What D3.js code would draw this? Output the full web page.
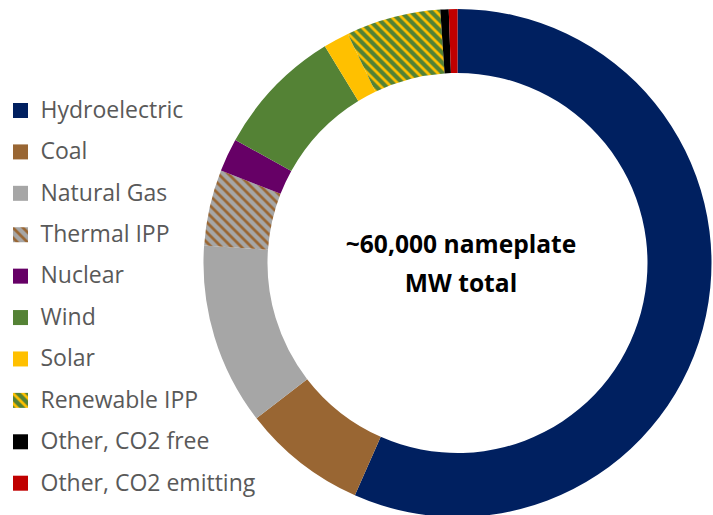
<!DOCTYPE html>
<html>
<head>
<meta charset="utf-8">
<script src="https://cdn.jsdelivr.net/npm/d3@7"></script>
<style>
  html, body { margin: 0; padding: 0; background: #ffffff; }
  svg { display: block; }
</style>
</head>
<body>
<svg id="chart" width="713" height="515"></svg>
<script>
// Data (nameplate MW, approx.)
const categories = ["Hydroelectric", "Coal", "Natural Gas", "Thermal IPP", "Nuclear",
                    "Wind", "Solar", "Renewable IPP", "Other, CO2 free", "Other, CO2 emitting"];
const capacityMW = [34000, 4750, 6950, 2900, 1270, 4930, 980, 3620, 320, 330];
const centerLabel = ["~60,000 nameplate", "MW total"];

const fills = ["#002060", "#996633", "#A6A6A6", "url(#pat-thermal)", "#660066",
               "#548235", "#FFC000", "url(#pat-renew)", "#000000", "#C00000"];

const svg = d3.select("#chart");
const cx = 457.5, cy = 263, rOuter = 254, rInner = 190;

// Patterns
const defs = svg.append("defs");
function stripe(id, bg, fg) {
  const s = 10;
  const p = defs.append("pattern")
    .attr("id", id).attr("patternUnits", "userSpaceOnUse")
    .attr("width", s).attr("height", s);
  p.append("rect").attr("width", s).attr("height", s).attr("fill", bg);
  p.append("path")
    .attr("d", `M-2,-2 L${s + 2},${s + 2} M-2,${s - 2} L2,${s + 2} M${s - 2},-2 L${s + 2},2`)
    .attr("stroke", fg).attr("stroke-width", 2.8).attr("fill", "none");
}
stripe("pat-thermal", "#A6A6A6", "#996633");
stripe("pat-renew", "#548235", "#FFC000");

// Donut
const pie = d3.pie().sort(null).value(d => d)(capacityMW);
const arc = d3.arc().innerRadius(rInner).outerRadius(rOuter);
const g = svg.append("g").attr("transform", `translate(${cx},${cy})`);
g.selectAll("path.slice")
  .data(pie)
  .join("path")
  .attr("class", "slice")
  .attr("d", arc)
  .attr("fill", (d, i) => fills[i]);

// Center label
g.append("text")
  .attr("text-anchor", "middle")
  .attr("font-family", "'Open Sans', sans-serif")
  .attr("font-weight", "bold")
  .attr("font-size", 24.6)
  .attr("fill", "#000")
  .selectAll("tspan")
  .data(centerLabel)
  .join("tspan")
  .attr("x", 3.5)
  .attr("y", (d, i) => -9.6 + i * 38.4)
  .text(d => d);

// Legend
const legendY = d3.scalePoint().domain(categories).range([110.5, 483.2]);
const leg = svg.append("g").attr("class", "legend");
const items = leg.selectAll("g")
  .data(categories)
  .join("g")
  .attr("transform", d => `translate(0,${legendY(d)})`);
items.append("rect")
  .attr("x", 13).attr("y", -7.5)
  .attr("width", 15).attr("height", 15)
  .attr("fill", (d, i) => fills[i]);
items.append("text")
  .attr("x", 40.5).attr("y", 7.3)
  .attr("font-family", "'Open Sans', sans-serif")
  .attr("font-size", 23)
  .attr("fill", "#595959")
  .text(d => d);
</script>
</body>
</html>
